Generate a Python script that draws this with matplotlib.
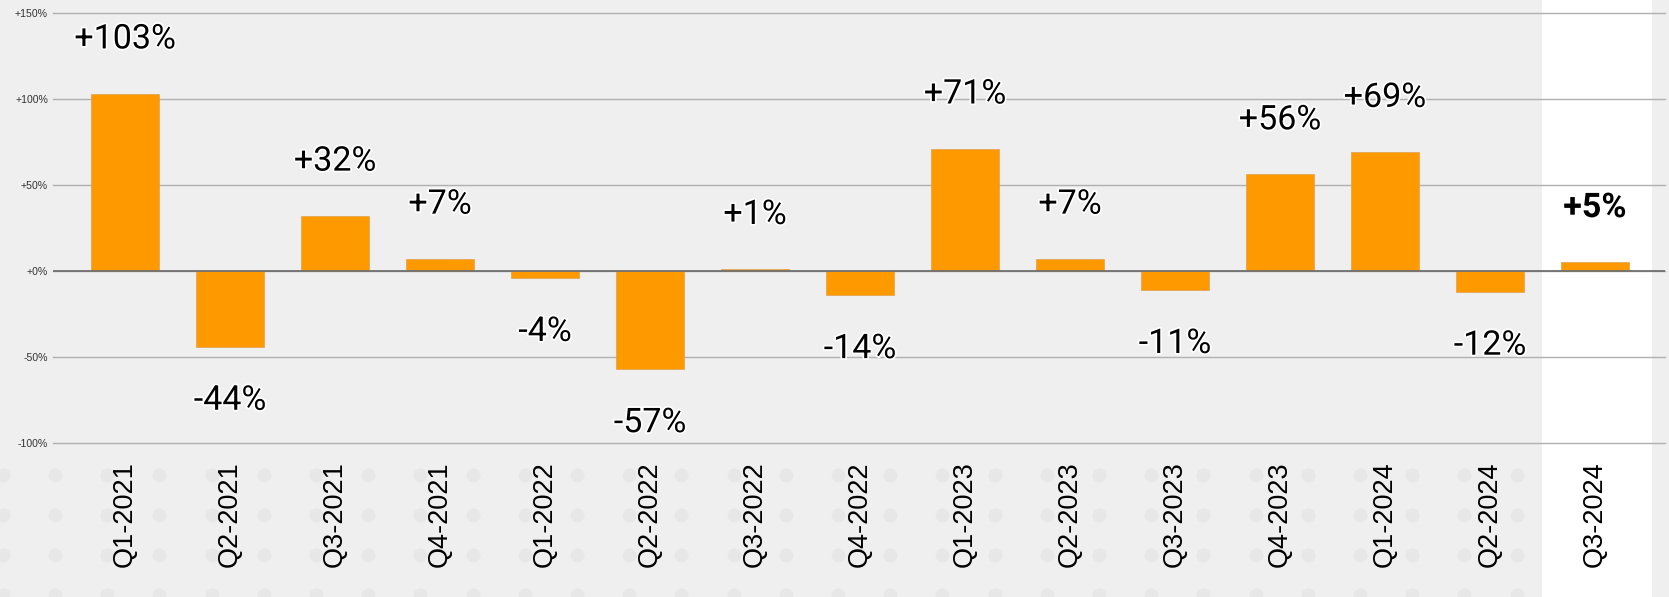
import matplotlib.pyplot as plt
import matplotlib.patheffects as pe
from matplotlib.lines import Line2D
from matplotlib.patches import Rectangle
from matplotlib.transforms import blended_transform_factory
import numpy as np

quarters = ['Q1-2021', 'Q2-2021', 'Q3-2021', 'Q4-2021', 'Q1-2022', 'Q2-2022',
            'Q3-2022', 'Q4-2022', 'Q1-2023', 'Q2-2023', 'Q3-2023', 'Q4-2023',
            'Q1-2024', 'Q2-2024', 'Q3-2024']
change = [103, -44, 32, 7, -4, -57, 1, -14, 71, 7, -11, 56, 69, -12, 5]
yticks = [-100, -50, 0, 50, 100, 150]

W, H = 1669, 597
fig = plt.figure(figsize=(W / 100, H / 100), dpi=100, facecolor='#efefef')
ax = fig.add_axes([53 / W, 1 - 443 / H, (1665 - 53) / W, (443 - 12.7) / H])
ax.set_facecolor('none')

# faint dot texture under the chart
dx = 2.7 + 52.2 * np.arange(32)
dy = np.array([475, 515, 555, 595])
gx, gy = np.meshgrid(dx / W, 1 - dy / H)
fig.add_artist(Line2D(gx.ravel(), gy.ravel(), ls='none', marker='o',
                      markersize=10, color='#e7e7e7', markeredgewidth=0,
                      transform=fig.transFigure, zorder=-2))

x = np.arange(len(quarters))

# highlighted current quarter column
tr = blended_transform_factory(ax.transData, fig.transFigure)
fig.add_artist(Rectangle((13.495, 0), 14.543 - 13.495, 1, transform=tr,
                         facecolor='white', edgecolor='none', zorder=-1))

ax.bar(x, change, width=0.64, color='#ff9900', edgecolor='#e0a050',
       linewidth=0.5, zorder=2)
ax.axhline(0, color='#707070', lw=1.3, zorder=3)

for i, v in enumerate(change):
    last = i == len(change) - 1
    ax.annotate(f'{v:+d}%', (i, v), xytext=(0, 39 if v >= 0 else -39),
                textcoords='offset points', ha='center', va='center',
                fontsize=24.5, family='Roboto', color='black',
                fontweight='bold' if last else 'normal',
                path_effects=[pe.withStroke(linewidth=2.5, foreground='white')],
                zorder=4)

ax.set_xlim(-0.686, 14.667)
ax.set_ylim(-100, 150)
ax.set_yticks(yticks)
ax.set_yticklabels([f'{t:+d}%' if t != 0 else '+0%' for t in yticks],
                   fontsize=7.6, family='Liberation Sans', color='#333333')
ax.set_xticks(x)
ax.set_xticklabels(quarters, rotation=90, fontsize=19.5,
                   family='Liberation Sans', color='black')
ax.tick_params(axis='both', length=0)
ax.tick_params(axis='y', pad=3.6)
ax.tick_params(axis='x', pad=13)
ax.grid(axis='y', color='#b0b0b0', lw=1)
for g in ax.yaxis.get_gridlines():
    g.set_clip_on(False)
ax.set_axisbelow(True)
for s in ax.spines.values():
    s.set_visible(False)

fig.savefig('out.png', dpi=100, facecolor=fig.get_facecolor())
